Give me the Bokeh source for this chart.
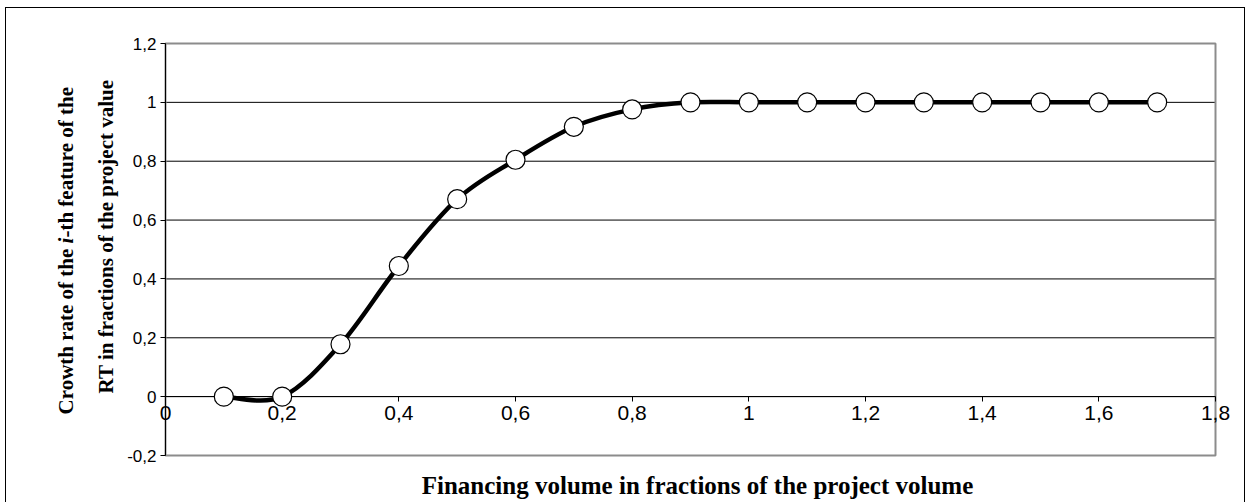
import math
from bokeh.plotting import figure
from bokeh.models import Range1d, FixedTicker, Label
from bokeh.embed import file_html
from bokeh.resources import INLINE

# ---- data ----
x_vals = [0.1, 0.2, 0.3, 0.4, 0.5, 0.6, 0.7, 0.8, 0.9, 1.0, 1.1, 1.2, 1.3, 1.4, 1.5, 1.6, 1.7]
y_vals = [0.0, 0.0, 0.178, 0.444, 0.671, 0.805, 0.917, 0.976, 1.0, 1.0, 1.0, 1.0, 1.0, 1.0, 1.0, 1.0, 1.0]

x_ticks = [0.0, 0.2, 0.4, 0.6, 0.8, 1.0, 1.2, 1.4, 1.6, 1.8]
x_tick_labels = ["0", "0,2", "0,4", "0,6", "0,8", "1", "1,2", "1,4", "1,6", "1,8"]
y_ticks = [-0.2, 0.0, 0.2, 0.4, 0.6, 0.8, 1.0, 1.2]
y_tick_labels = ["-0,2", "0", "0,2", "0,4", "0,6", "0,8", "1", "1,2"]
grid_levels = [0.0, 0.2, 0.4, 0.6, 0.8, 1.0]

x_title = "Financing volume in fractions of the project volume"
y_title_1a = "Crowth rate of the\u00a0"
y_title_1b = "i"
y_title_1c = "-th feature of the"
y_title_2 = "RT in fractions of the project value"

# plot-area extent (data) and its place on the canvas (pixels)
X0, X1 = 0.0, 1.8
Y0, Y1 = -0.2, 1.2
W, H = 1240, 495
PA_L, PA_R, PA_T, PA_B = 159, 1209, 35, 447
PX = (PA_R - PA_L) / (X1 - X0)
PY = (PA_B - PA_T) / (Y1 - Y0)


def cx(px):
    return X0 + (px - PA_L) / PX


def cy(py):
    return Y1 - (py - PA_T) / PY


p = figure(width=W, height=H, output_backend="svg", toolbar_location=None,
           x_range=Range1d(cx(0), cx(W)), y_range=Range1d(cy(H), cy(0)),
           min_border=0, min_border_left=0, min_border_right=0,
           min_border_top=0, min_border_bottom=0, outline_line_color=None)
p.styles = {"border-left": "1px solid black", "border-top": "1px solid black",
            "border-right": "1px solid black", "margin-left": "5px", "margin-top": "7px"}
p.background_fill_color = "white"
p.border_fill_color = "white"
p.grid.visible = False

# plot area background, grid lines and border
p.quad(left=[X0], right=[X1], bottom=[Y0], top=[Y1], fill_color="white", line_color=None)
k = len(grid_levels)
p.segment(x0=[X0] * k, y0=grid_levels, x1=[X1] * k, y1=grid_levels,
          line_color="black", line_width=1)
p.quad(left=[X0], right=[X1], bottom=[Y0], top=[Y1], fill_color=None,
       line_color="#8c8c8c", line_width=2)

# y axis at x = 0
ax = p.yaxis[0]
ax.fixed_location = 0
ax.bounds = (Y0, Y1)
ax.ticker = FixedTicker(ticks=y_ticks)
ax.major_label_overrides = {t: l for t, l in zip(y_ticks, y_tick_labels)}
ax.axis_line_color = "black"
ax.major_tick_line_color = "black"
ax.major_tick_in = 0
ax.major_tick_out = 5
ax.minor_tick_line_color = None
ax.major_label_standoff = 4
ax.major_label_text_font = "Liberation Sans"
ax.major_label_text_font_size = "17px"
ax.major_label_text_color = "black"

# x axis at y = 0
xa = p.xaxis[0]
xa.fixed_location = 0
xa.bounds = (X0, X1)
xa.ticker = FixedTicker(ticks=x_ticks)
xa.major_label_overrides = {t: l for t, l in zip(x_ticks, x_tick_labels)}
xa.axis_line_color = "black"
xa.major_tick_line_color = "black"
xa.major_tick_in = 0
xa.major_tick_out = 5
xa.minor_tick_line_color = None
xa.major_label_standoff = 4
xa.major_label_text_font = "Liberation Sans"
xa.major_label_text_font_size = "21px"
xa.major_label_text_color = "black"

# smoothed line (Bezier segments through the data points)
n = len(x_vals)
bx0, by0, bx1, by1, bcx0, bcy0, bcx1, bcy1 = [], [], [], [], [], [], [], []
for i in range(n - 1):
    i0 = max(i - 1, 0)
    i3 = min(i + 2, n - 1)
    bx0.append(x_vals[i]); by0.append(y_vals[i])
    bx1.append(x_vals[i + 1]); by1.append(y_vals[i + 1])
    bcx0.append(x_vals[i] + (x_vals[i + 1] - x_vals[i0]) / 6)
    bcy0.append(y_vals[i] + (y_vals[i + 1] - y_vals[i0]) / 6)
    bcx1.append(x_vals[i + 1] - (x_vals[i3] - x_vals[i]) / 6)
    bcy1.append(y_vals[i + 1] - (y_vals[i3] - y_vals[i]) / 6)
p.bezier(x0=bx0, y0=by0, x1=bx1, y1=by1, cx0=bcx0, cy0=bcy0, cx1=bcx1, cy1=bcy1,
         line_color="black", line_width=4.5, level="overlay")
p.scatter(x_vals, y_vals, marker="circle", size=19, fill_color="white",
          line_color="black", line_width=1.2, level="overlay")


# axis titles
def title_label(px, py, text, style="bold", size="21px", angle=0.0, align="center"):
    return Label(x=cx(px), y=cy(py), text=text, angle=angle, text_align=align,
                 text_baseline="middle", text_font="Liberation Serif",
                 text_font_style=style, text_font_size=size, text_color="black")


p.add_layout(title_label(691, 477, x_title, size="25px"))
yi = 232
r = math.pi / 2
p.add_layout(title_label(59, yi + 2.9, y_title_1a, angle=r, align="right"))
p.add_layout(title_label(59, yi, y_title_1b, style="bold italic", angle=r))
p.add_layout(title_label(59, yi - 2.9, y_title_1c, angle=r, align="left"))
p.add_layout(title_label(99, 228, y_title_2, angle=r))

open("out.html", "w").write(file_html(p, INLINE))
